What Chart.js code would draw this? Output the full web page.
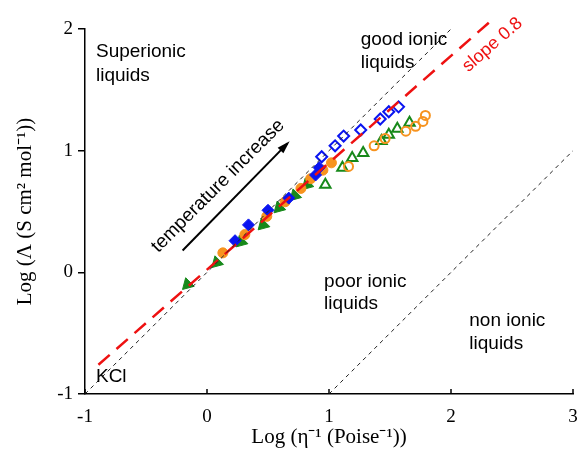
<!DOCTYPE html>
<html>
<head>
<meta charset="utf-8">
<script src="https://cdn.jsdelivr.net/npm/chart.js@4.4.1/dist/chart.umd.min.js"></script>
<style>
  html, body { margin: 0; padding: 0; background: #fff; }
  #wrap { width: 581px; height: 449px; }
</style>
</head>
<body>
<div id="wrap"><canvas id="walden" width="581" height="449"></canvas></div>
<script>
// --- data (log 1/eta, log molar conductivity) ---
const blueFilledX = [0.23, 0.34, 0.50, 0.67, 0.89, 0.92];
const blueFilledY = [0.26, 0.39, 0.51, 0.61, 0.80, 0.86];
const blueOpenX = [0.94, 1.05, 1.12, 1.26, 1.42, 1.49, 1.57];
const blueOpenY = [0.95, 1.04, 1.12, 1.17, 1.26, 1.32, 1.36];

const orangeFilledX = [0.13, 0.31, 0.49, 0.64, 0.77, 0.85, 0.95, 1.02];
const orangeFilledY = [0.16, 0.31, 0.46, 0.58, 0.69, 0.77, 0.84, 0.90];
const orangeOpenX = [1.16, 1.37, 1.46, 1.63, 1.71, 1.77, 1.79];
const orangeOpenY = [0.87, 1.04, 1.10, 1.16, 1.20, 1.24, 1.29];

const greenFilledX = [-0.16, 0.08, 0.28, 0.46, 0.59, 0.72, 0.82];
const greenFilledY = [-0.10, 0.08, 0.25, 0.39, 0.53, 0.63, 0.72];
const greenOpenX = [0.97, 1.11, 1.19, 1.28, 1.43, 1.49, 1.56, 1.66];
const greenOpenY = [0.72, 0.86, 0.94, 0.98, 1.08, 1.13, 1.18, 1.23];

// guide lines
const idealX = [-1, 2];
const idealY = [-1, 2];
const nonIonicX = [1, 3];
const nonIonicY = [-1, 1];
const slopeX = [-0.89, 2.32];
const slopeY = [-0.76, 2.06];
const arrowX = [-0.2, 0.66];
const arrowY = [0.18, 1.06];

const xTicks = [-1, 0, 1, 2, 3];
const yTicks = [-1, 0, 1, 2];

const sansFont = "'Liberation Sans', Arial, sans-serif";
const serifFont = "'Liberation Serif', 'Times New Roman', serif";

const pts = (xs, ys) => xs.map((x, i) => ({ x: x, y: ys[i] }));

function guide(xs, ys, color, width, dash, extra) {
    return Object.assign({
        data: pts(xs, ys),
        showLine: true,
        borderColor: color,
        borderWidth: width,
        borderDash: dash,
        pointRadius: 0,
        fill: false
    }, extra || {});
}

function markers(xs, ys, color, style, filled, radius, rotation) {
    return {
        data: pts(xs, ys),
        showLine: false,
        pointStyle: style,
        pointRadius: radius,
        pointRotation: rotation || 0,
        pointBackgroundColor: filled ? color : 'rgba(0,0,0,0)',
        pointBorderColor: color,
        pointBorderWidth: filled ? 1 : 2
    };
}

// text labels placed in data units
const notes = [
    { text: 'Superionic', x: -0.91, y: 1.77 },
    { text: 'liquids', x: -0.91, y: 1.57 },
    { text: 'good ionic', x: 1.26, y: 1.87 },
    { text: 'liquids', x: 1.26, y: 1.68 },
    { text: 'poor ionic', x: 0.96, y: -0.12 },
    { text: 'liquids', x: 0.96, y: -0.30 },
    { text: 'non ionic', x: 2.15, y: -0.44 },
    { text: 'liquids', x: 2.15, y: -0.63 },
    { text: 'KCl', x: -0.91, y: -0.90 }
];
const rotNotes = [
    { text: 'temperature increase', x: 0.09, y: 0.71, angle: -45, color: '#000', size: 19 },
    { text: 'slope 0.8', x: 2.34, y: 1.87, angle: -41, color: '#ee1111', size: 18 }
];

const overlay = {
    id: 'overlay',
    afterDraw(chart) {
        const ctx = chart.ctx;
        const xs = chart.scales.x, ys = chart.scales.y;
        const area = chart.chartArea;
        ctx.save();

        // inward x ticks
        ctx.strokeStyle = '#000';
        ctx.lineWidth = 1.5;
        xTicks.forEach(v => {
            const px = xs.getPixelForValue(v);
            ctx.beginPath();
            ctx.moveTo(px, area.bottom);
            ctx.lineTo(px, area.bottom - 5);
            ctx.stroke();
        });

        // arrow head
        const x0 = xs.getPixelForValue(arrowX[0]), y0 = ys.getPixelForValue(arrowY[0]);
        const x1 = xs.getPixelForValue(arrowX[1]), y1 = ys.getPixelForValue(arrowY[1]);
        const a = Math.atan2(y1 - y0, x1 - x0);
        ctx.fillStyle = '#000';
        ctx.beginPath();
        ctx.moveTo(x1 + 3 * Math.cos(a), y1 + 3 * Math.sin(a));
        ctx.lineTo(x1 - 10 * Math.cos(a) + 4 * Math.sin(a), y1 - 10 * Math.sin(a) - 4 * Math.cos(a));
        ctx.lineTo(x1 - 10 * Math.cos(a) - 4 * Math.sin(a), y1 - 10 * Math.sin(a) + 4 * Math.cos(a));
        ctx.closePath();
        ctx.fill();

        // region labels
        ctx.font = '19px ' + sansFont;
        ctx.textAlign = 'left';
        ctx.textBaseline = 'alphabetic';
        notes.forEach(n => {
            ctx.fillText(n.text, xs.getPixelForValue(n.x), ys.getPixelForValue(n.y));
        });

        rotNotes.forEach(n => {
            ctx.save();
            ctx.translate(xs.getPixelForValue(n.x), ys.getPixelForValue(n.y));
            ctx.rotate(n.angle * Math.PI / 180);
            ctx.font = n.size + 'px ' + sansFont;
            ctx.fillStyle = n.color;
            ctx.textAlign = 'center';
            ctx.textBaseline = 'middle';
            ctx.fillText(n.text, 0, 0);
            ctx.restore();
        });
        ctx.restore();
    }
};

new Chart(document.getElementById('walden'), {
    type: 'scatter',
    data: {
        datasets: [
            guide(idealX, idealY, '#222', 1, [4, 4]),
            guide(nonIonicX, nonIonicY, '#222', 1, [4, 4]),
            guide(slopeX, slopeY, '#ee1111', 2.5, [15, 9], { clip: false }),
            guide(arrowX, arrowY, '#000', 2, []),
            markers(blueFilledX, blueFilledY, '#0a14f0', 'rectRot', true, 6),
            markers(orangeFilledX, orangeFilledY, '#f7931e', 'circle', true, 5),
            markers(greenFilledX, greenFilledY, '#17891a', 'triangle', true, 7, 225),
            markers(blueOpenX, blueOpenY, '#0a14f0', 'rectRot', false, 5.5),
            markers(orangeOpenX, orangeOpenY, '#f7931e', 'circle', false, 4.5),
            markers(greenOpenX, greenOpenY, '#17891a', 'triangle', false, 6)
        ]
    },
    options: {
        responsive: false,
        animation: false,
        layout: { padding: { top: 29, right: 0, left: 0, bottom: 0 } },
        plugins: {
            legend: { display: false },
            tooltip: { enabled: false }
        },
        scales: {
            x: {
                type: 'linear',
                min: -1,
                max: 3,
                afterFit: s => { s.height = 55; s.paddingRight = 5; s.paddingLeft = 0; },
                afterBuildTicks: s => { s.ticks = xTicks.map(v => ({ value: v })); },
                grid: { display: false },
                border: { display: true, color: '#000', width: 1.5 },
                ticks: { color: '#000', padding: 4, font: { family: serifFont, size: 19 } },
                title: {
                    display: true,
                    text: 'Log (η⁻¹ (Poise⁻¹))',
                    color: '#000',
                    font: { family: serifFont, size: 21, lineHeight: 1.1 },
                    padding: { top: 0, bottom: 0 }
                }
            },
            y: {
                type: 'linear',
                min: -1,
                max: 2,
                afterFit: s => { s.width = 85; },
                afterBuildTicks: s => { s.ticks = yTicks.map(v => ({ value: v })); },
                grid: { drawOnChartArea: false, drawTicks: true, tickLength: 7, color: '#000', lineWidth: 1.5 },
                border: { display: true, color: '#000', width: 1.5 },
                ticks: { color: '#000', padding: 5, font: { family: serifFont, size: 19 } },
                title: {
                    display: true,
                    text: 'Log (Λ (S cm² mol⁻¹))',
                    color: '#000',
                    font: { family: serifFont, size: 21, lineHeight: 1.1 },
                    padding: { top: 14, bottom: 0 }
                }
            }
        }
    },
    plugins: [overlay]
});
</script>
</body>
</html>
